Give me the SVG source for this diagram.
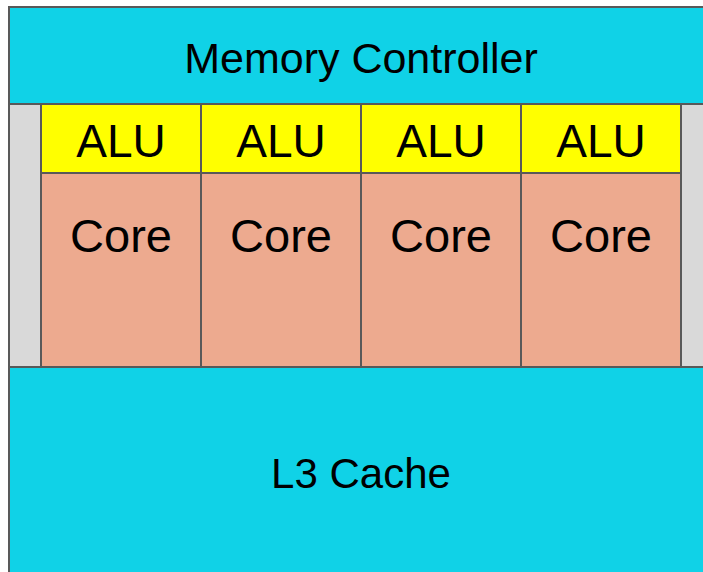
<svg xmlns="http://www.w3.org/2000/svg" width="703" height="572" viewBox="0 0 703 572">
  <style>
    .blk { stroke: #595959; stroke-width: 2; }
    .cyan { fill: #10d2e7; }
    .side { fill: #d9d9d9; }
    .alu { fill: #ffff00; }
    .core { fill: #edaa8f; }
    text { font-family: "Liberation Sans", Arial, sans-serif; fill: #000; text-anchor: middle; }
    .big { font-size: 43px; }
    .cache { font-size: 42px; }
    .unit { font-size: 46px; }
    .corelbl { font-size: 47px; }
  </style>
  <rect width="703" height="572" fill="#ffffff"/>
  <g id="memory-controller">
    <rect class="blk cyan" x="9" y="7" width="704" height="97"/>
    <text class="big" x="361" y="73">Memory Controller</text>
  </g>
  <g id="side-left">
    <rect class="blk side" x="9" y="104" width="32" height="263"/>
  </g>
  <g id="side-right">
    <rect class="blk side" x="681" y="104" width="32" height="263"/>
  </g>
  <g id="core-1">
    <rect class="blk core" x="41" y="173" width="160" height="194"/>
    <text class="corelbl" x="121" y="252">Core</text>
  </g>
  <g id="core-2">
    <rect class="blk core" x="201" y="173" width="160" height="194"/>
    <text class="corelbl" x="281" y="252">Core</text>
  </g>
  <g id="core-3">
    <rect class="blk core" x="361" y="173" width="160" height="194"/>
    <text class="corelbl" x="441" y="252">Core</text>
  </g>
  <g id="core-4">
    <rect class="blk core" x="521" y="173" width="160" height="194"/>
    <text class="corelbl" x="601" y="252">Core</text>
  </g>
  <g id="alu-1">
    <rect class="blk alu" x="41" y="104" width="160" height="69"/>
    <text class="unit" x="121" y="157">ALU</text>
  </g>
  <g id="alu-2">
    <rect class="blk alu" x="201" y="104" width="160" height="69"/>
    <text class="unit" x="281" y="157">ALU</text>
  </g>
  <g id="alu-3">
    <rect class="blk alu" x="361" y="104" width="160" height="69"/>
    <text class="unit" x="441" y="157">ALU</text>
  </g>
  <g id="alu-4">
    <rect class="blk alu" x="521" y="104" width="160" height="69"/>
    <text class="unit" x="601" y="157">ALU</text>
  </g>
  <g id="l3-cache">
    <rect class="blk cyan" x="9" y="367" width="704" height="214"/>
    <text class="cache" x="361" y="488">L3 Cache</text>
  </g>
  <g id="connectors"/>
</svg>
